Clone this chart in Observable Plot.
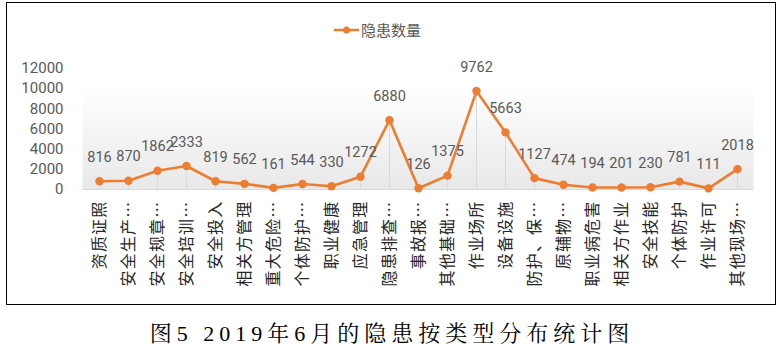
<!DOCTYPE html>
<html><head><meta charset="utf-8">
<script src="https://cdn.jsdelivr.net/npm/d3@7"></script>
<script src="https://cdn.jsdelivr.net/npm/@observablehq/plot@0.6"></script>
<style>
body{margin:0;background:#fff;}
#wrap{position:relative;width:784px;height:351px;overflow:hidden;}
#box{position:absolute;left:6px;top:2px;width:768px;height:301px;border:1.6px solid #000;}
#chart{position:absolute;left:0;top:0;}
#legend{position:absolute;left:334px;top:19px;display:flex;align-items:center;font-family:"Noto Sans CJK SC";font-size:15px;color:#595959;}
#caption{position:absolute;left:0;top:316px;width:784px;text-align:center;font-family:"Liberation Serif","Noto Serif CJK SC","Noto Sans CJK SC",serif;font-size:22px;letter-spacing:5px;color:#000;}
</style></head>
<body>
<div id="wrap">
<div id="box"></div>
<div id="chart"></div>
<div id="legend"><svg width="26" height="10"><line x1="0" x2="25" y1="5" y2="5" stroke="#ED7D31" stroke-width="2.5"/><circle cx="12.5" cy="5" r="3.5" fill="#ED7D31"/></svg><span style="margin-left:1px">隐患数量</span></div>
<div id="caption">图5 2019年6月的隐患按类型分布统计图</div>
</div>
<script>
const categories = ["资质证照","安全生产…","安全规章…","安全培训…","安全投入","相关方管理","重大危险…","个体防护…","职业健康","应急管理","隐患排查…","事故报…","其他基础…","作业场所","设备设施","防护、保…","原辅物…","职业病危害","相关方作业","安全技能","个体防护","作业许可","其他现场…"];
const values = [816,870,1862,2333,819,562,161,544,330,1272,6880,126,1375,9762,5663,1127,474,194,201,230,781,111,2018];
const yTicks = [0,2000,4000,6000,8000,10000,12000];
const seriesName = "隐患数量";

const data = categories.map((c,i)=>({cat:c, key:i, value:values[i]}));
const color = "#ED7D31";
const numFont = "Roboto, 'Liberation Sans', sans-serif";

const chart = Plot.plot({
  width:784, height:305,
  marginTop:68, marginBottom:116, marginLeft:82, marginRight:31,
  style:{fontFamily:numFont, fontSize:"14px", color:"#595959", background:"transparent"},
  x:{type:"point", domain:d3.range(categories.length), padding:0.5, label:null},
  y:{domain:[0,12000], label:null},
  marks:[
    Plot.frame({fill:"url(#plotbg)", stroke:"none"}),
    Plot.ruleX(data,{x:"key", y1:0, y2:"value", stroke:"#d9d9d9", strokeWidth:1}),
    Plot.ruleY([0],{stroke:"#d9d9d9", strokeWidth:1}),
    Plot.axisY({ticks:yTicks, tickSize:0, tickPadding:19, label:null, tickFormat:d=>String(d), fill:"#595959", fontFamily:numFont, fontSize:15}),
    Plot.axisX({tickSize:0, tickPadding:11, tickRotate:-90, label:null, tickFormat:i=>categories[i], fill:"#262626", fontFamily:"'Noto Sans CJK SC'", fontSize:16}),
    Plot.line(data,{x:"key", y:"value", stroke:color, strokeWidth:2.6}),
    Plot.dot(data,{x:"key", y:"value", fill:color, r:4.2}),
    Plot.text(data,{x:"key", y:"value", text:d=>String(d.value), dy:-24, fill:"#595959", fontFamily:numFont, fontSize:14.5})
  ]
});
const defs = d3.create("svg:defs");
const g = defs.append("linearGradient").attr("id","plotbg").attr("x1",0).attr("x2",0).attr("y1",0).attr("y2",1);
g.append("stop").attr("offset","0%").attr("stop-color","#ffffff");
g.append("stop").attr("offset","15%").attr("stop-color","#ffffff");
g.append("stop").attr("offset","100%").attr("stop-color","#e8e8e8");
chart.insertBefore(defs.node(), chart.firstChild);
d3.select(chart).selectAll('g[aria-label="x-axis tick label"]').style("letter-spacing","1.2px");
document.getElementById("chart").appendChild(chart);
</script>
</body></html>
